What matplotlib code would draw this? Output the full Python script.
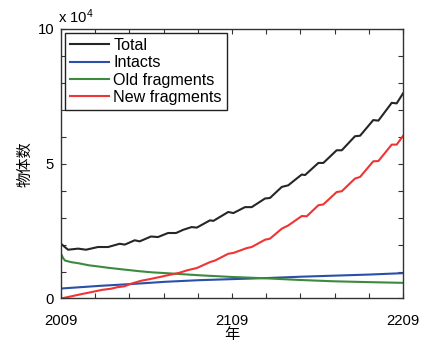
import numpy as np
import matplotlib
matplotlib.use("Agg")
import matplotlib.pyplot as plt

plt.rcParams['font.family'] = ['Liberation Sans', 'Noto Sans CJK SC', 'DejaVu Sans']
plt.rcParams['mathtext.default'] = 'regular'

# values in units of 10^4 objects
total_year = [2009, 2013.1, 2019, 2023.6, 2030.6, 2036.5, 2043.3, 2046.3, 2052.1, 2055,
              2061.6, 2065.7, 2071.6, 2076.3, 2080.5, 2085.4, 2088.4, 2096.1, 2098.1,
              2106.8, 2109.8, 2116.6, 2120.5, 2128.3, 2131.2, 2138.1, 2141.9, 2145.8,
              2149.8, 2151.7, 2159.5, 2162.4, 2170.2, 2173.2, 2180.9, 2183.9, 2191.6,
              2194.6, 2202.4, 2205.3, 2209]
total_val = [2.03, 1.81, 1.85, 1.81, 1.91, 1.91, 2.03, 2.00, 2.16, 2.12,
             2.30, 2.28, 2.43, 2.43, 2.55, 2.65, 2.63, 2.90, 2.88,
             3.21, 3.17, 3.39, 3.39, 3.71, 3.73, 4.14, 4.20, 4.40,
             4.60, 4.58, 5.03, 5.03, 5.50, 5.50, 6.02, 6.04, 6.62,
             6.60, 7.26, 7.24, 7.61]

intact_year = [2009, 2032, 2051, 2070, 2090, 2110, 2130, 2150, 2170, 2190, 2209]
intact_val = [0.37, 0.47, 0.54, 0.62, 0.68, 0.72, 0.76, 0.81, 0.85, 0.89, 0.94]

old_year = [2009, 2010.2, 2011.3, 2014.8, 2019, 2025.4, 2030.6, 2036.5, 2046.4, 2055.2,
            2062.2, 2070.4, 2090.3, 2108.4, 2128.3, 2147.6, 2167.5, 2186.8, 2209]
old_val = [1.66, 1.50, 1.41, 1.35, 1.31, 1.23, 1.19, 1.14, 1.07, 1.01,
           0.97, 0.94, 0.86, 0.80, 0.75, 0.69, 0.64, 0.61, 0.58]

new_year = [2009, 2015, 2020, 2027, 2033, 2038, 2042, 2046, 2050, 2056, 2061, 2067,
            2072, 2078, 2083, 2086.4, 2088.4, 2096.1, 2099.1, 2106.8, 2109.8, 2117.6,
            2120.5, 2128.3, 2131.2, 2138.1, 2141.9, 2149.8, 2152.7, 2159.5, 2162.4,
            2170.2, 2173.2, 2180.9, 2183.9, 2191.6, 2194.6, 2202.4, 2205.3, 2209]
new_val = [0.0, 0.08, 0.15, 0.24, 0.32, 0.36, 0.42, 0.45, 0.55, 0.66, 0.72, 0.80,
           0.87, 0.95, 1.05, 1.10, 1.13, 1.35, 1.41, 1.66, 1.69, 1.87,
           1.91, 2.18, 2.22, 2.59, 2.71, 3.06, 3.05, 3.46, 3.49,
           3.95, 3.98, 4.45, 4.51, 5.09, 5.10, 5.71, 5.71, 6.03]

fig = plt.figure(figsize=(4.34, 3.44), dpi=100)
ax = fig.add_axes([0.1406, 0.1323, 0.788, 0.7834])

ax.plot(total_year, total_val, color='#262626', lw=1.5, label='Total')
ax.plot(intact_year, intact_val, color='#2b4fa8', lw=1.5, label='Intacts')
ax.plot(old_year, old_val, color='#3b8a3e', lw=1.5, label='Old fragments')
ax.plot(new_year, new_val, color='#f03434', lw=1.5, label='New fragments')

ax.set_xlim(2009, 2209)
ax.set_ylim(0, 10)
ax.set_xticks([2009, 2109, 2209])
ax.set_xticks(np.arange(2009, 2210, 20), minor=True)
ax.set_yticks([0, 5, 10])
ax.set_yticks(np.arange(0, 11, 1), minor=True)
ax.tick_params(which='both', direction='in', top=True, right=True, length=3.5,
               width=0.8, color='#333333', labelsize=10.7)
ax.tick_params(axis='x', which='major', pad=11)
ax.tick_params(axis='y', which='major', pad=5)
for s in ax.spines.values():
    s.set_color('#333333')
    s.set_linewidth(1.0)

ax.text(-0.01, 1.012, 'x 10$^4$', transform=ax.transAxes, fontsize=10.7,
        ha='left', va='bottom')
ax.set_ylabel('物体数', fontsize=11, labelpad=4)
ax.set_xlabel('年', fontsize=11, labelpad=0)

leg = ax.legend(loc='upper left', fontsize=11.6, frameon=True, fancybox=False,
                borderaxespad=0.25, borderpad=0.3, labelspacing=0.15,
                handlelength=2.4, handletextpad=0.3)
leg.get_frame().set_edgecolor('#222222')
leg.get_frame().set_linewidth(1.0)
leg.get_frame().set_alpha(1)

fig.savefig('out.png', dpi=100)
